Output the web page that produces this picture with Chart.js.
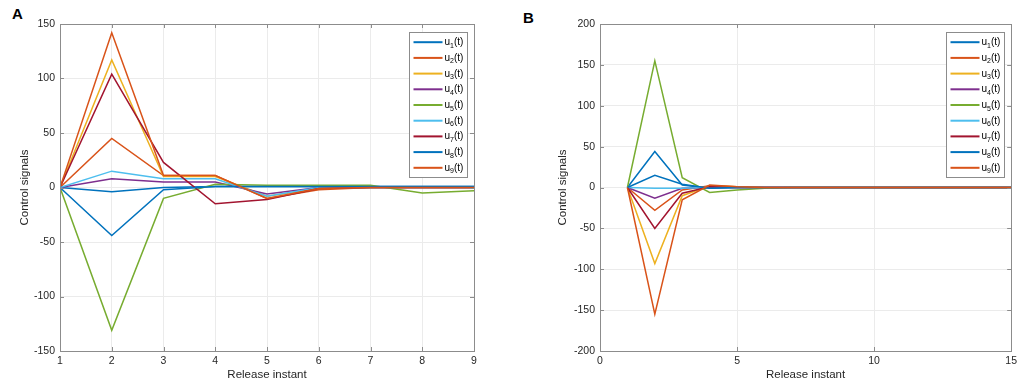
<!DOCTYPE html>
<html lang="en">
<head>
<meta charset="UTF-8">
<title>Control signals vs release instant</title>
<style>
    body {
        margin: 0;
        background: #fff;
        font-family: 'Liberation Sans', Arial, sans-serif;
    }
    .wrap {
        position: relative;
        width: 1021px;
        height: 382px;
    }
    .panel {
        position: absolute;
        top: 0;
        height: 382px;
    }
    #panelA { left: 0; width: 482px; }
    #panelB { left: 510px; width: 511px; }
    .tag {
        position: absolute;
        font-weight: bold;
        font-size: 15px;
        line-height: 15px;
        color: #000;
    }
</style>
<script src="https://cdn.jsdelivr.net/npm/chart.js"></script>
</head>
<body>
<div class="wrap">
    <div class="tag" style="left:12px; top:6px;">A</div>
    <div class="tag" style="left:523px; top:10px;">B</div>
    <div class="panel" id="panelA"><canvas id="chartA"></canvas></div>
    <div class="panel" id="panelB"><canvas id="chartB"></canvas></div>
</div>

<script>
    // release instants
    const releaseA = [1, 2, 3, 4, 5, 6, 7, 8, 9];
    const releaseB = [1, 2, 3, 4, 5, 6, 7, 8, 9, 10, 11, 12, 13, 14, 15];

    const seriesNums = [1, 2, 3, 4, 5, 6, 7, 8, 9];

    // panel A control signals
    const u1A = [0, -4, 0, 1, 1, 1, 1, 1, 1];
    const u2A = [0, 45, 11, 11, -10, -2, 0, 0, 0];
    const u3A = [0, 117, 10, 10, -8, -1, 0, 0, 0];
    const u4A = [0, 8, 5, 5, -6, 0, 0, 0, 0];
    const u5A = [0, -131, -10, 3, 2, 2, 2, -5, -3];
    const u6A = [0, 15, 8, 8, -8, 0, 0, 0, 0];
    const u7A = [0, 104, 23, -15, -11, -1, 0, 0, 0];
    const u8A = [0, -44, -2, 1, 1, 1, 1, 1, 1];
    const u9A = [0, 142, 11, 11, -10, -1, 0, 0, 0];

    // panel B control signals
    const u1B = [0, 44, 3, -1, 0, 0, 0, 0, 0, 0, 0, 0, 0, 0, 0];
    const u2B = [0, -28, -3, 2, 1, 0, 0, 0, 0, 0, 0, 0, 0, 0, 0];
    const u3B = [0, -93, -10, 2, 1, 0, 0, 0, 0, 0, 0, 0, 0, 0, 0];
    const u4B = [0, -13, -1, 0, 0, 0, 0, 0, 0, 0, 0, 0, 0, 0, 0];
    const u5B = [0, 155, 12, -6, -3, -1, 0, 0, 0, 0, 0, 0, 0, 0, 0];
    const u6B = [0, -1, -1, 0, 0, 0, 0, 0, 0, 0, 0, 0, 0, 0, 0];
    const u7B = [0, -50, -7, 1, 0, 0, 0, 0, 0, 0, 0, 0, 0, 0, 0];
    const u8B = [0, 15, 4, -1, 0, 0, 0, 0, 0, 0, 0, 0, 0, 0, 0];
    const u9B = [0, -155, -15, 3, 1, 0, 0, 0, 0, 0, 0, 0, 0, 0, 0];

    // MATLAB default color order
    const palette = ['#0072BD', '#D95319', '#EDB120', '#7E2F8E', '#77AC30',
                     '#4DBEEE', '#A2142F', '#0072BD', '#D95319'];

    const textColor = '#262626';

    function makeDatasets(xs, series) {
        return series.map((vals, i) => ({
            label: 'u' + seriesNums[i] + '(t)',
            num: seriesNums[i],
            data: vals.map((v, k) => ({ x: xs[k], y: v })),
            borderColor: palette[i],
            backgroundColor: palette[i],
            borderWidth: 1.5,
            pointRadius: 0,
            tension: 0,
            order: series.length - i
        }));
    }

    // box, inward ticks and legend drawn inside the axes
    const framePlugin = {
        id: 'frame',
        afterDatasetsDraw(chart) {
            const { ctx, chartArea: a, scales: { x, y } } = chart;
            ctx.save();
            ctx.strokeStyle = '#8c8c8c';
            ctx.lineWidth = 1;
            ctx.strokeRect(Math.round(a.left) + 0.5, Math.round(a.top) + 0.5,
                           Math.round(a.right - a.left), Math.round(a.bottom - a.top));
            const t = 4;
            ctx.beginPath();
            x.ticks.forEach(tk => {
                const px = Math.round(x.getPixelForValue(tk.value)) + 0.5;
                ctx.moveTo(px, a.bottom); ctx.lineTo(px, a.bottom - t);
                ctx.moveTo(px, a.top); ctx.lineTo(px, a.top + t);
            });
            y.ticks.forEach(tk => {
                const py = Math.round(y.getPixelForValue(tk.value)) + 0.5;
                ctx.moveTo(a.left, py); ctx.lineTo(a.left + t, py);
                ctx.moveTo(a.right, py); ctx.lineTo(a.right - t, py);
            });
            ctx.stroke();

            // legend
            const ds = chart.data.datasets;
            const w = 58, rowH = 15.7, pad = 9.7;
            const h = pad * 2 + rowH * (ds.length - 1);
            const left = Math.round(a.right - 7 - w) + 0.5;
            const top = Math.round(a.top + 8) + 0.5;
            ctx.fillStyle = '#fff';
            ctx.fillRect(left, top, w, h);
            ctx.strokeStyle = '#8c8c8c';
            ctx.strokeRect(left, top, w, h);
            ds.forEach((d, i) => {
                const cy = top + pad + i * rowH;
                ctx.strokeStyle = d.borderColor;
                ctx.lineWidth = 2;
                ctx.beginPath();
                ctx.moveTo(left + 4, cy);
                ctx.lineTo(left + 33, cy);
                ctx.stroke();
                ctx.fillStyle = '#000';
                ctx.textBaseline = 'alphabetic';
                ctx.font = '10px "Liberation Sans", Arial, sans-serif';
                let tx = left + 35;
                const base = cy + 3;
                ctx.fillText('u', tx, base);
                tx += ctx.measureText('u').width;
                ctx.font = '7px "Liberation Sans", Arial, sans-serif';
                ctx.fillText(String(d.num), tx, base + 2.5);
                tx += ctx.measureText(String(d.num)).width;
                ctx.font = '10px "Liberation Sans", Arial, sans-serif';
                ctx.fillText('(t)', tx, base);
            });
            ctx.restore();
        }
    };

    function makeChart(id, xs, series, xOpts, yOpts, yAxisWidth, yTitlePad, rightPad) {
        const tickFont = { family: "'Liberation Sans', Arial, sans-serif", size: 10.5 };
        const titleFont = { family: "'Liberation Sans', Arial, sans-serif", size: 11.5 };
        return new Chart(document.getElementById(id), {
            type: 'line',
            data: { datasets: makeDatasets(xs, series) },
            options: {
                responsive: true,
                maintainAspectRatio: false,
                animation: false,
                layout: { padding: { top: 24, right: rightPad, bottom: 0, left: 0 } },
                plugins: { legend: { display: false }, tooltip: { enabled: false } },
                scales: {
                    x: {
                        type: 'linear',
                        min: xOpts.min, max: xOpts.max,
                        afterFit: s => { s.height = 31; },
                        grid: { color: '#ebebeb', drawTicks: false },
                        border: { display: false },
                        ticks: { stepSize: xOpts.step, color: textColor, font: tickFont, padding: 4 },
                        title: { display: true, text: 'Release instant', color: textColor,
                                 font: titleFont, padding: { top: 0, bottom: 0 } }
                    },
                    y: {
                        min: yOpts.min, max: yOpts.max,
                        afterFit: s => { s.width = yAxisWidth; },
                        grid: { color: '#ebebeb', drawTicks: false },
                        border: { display: false },
                        ticks: { stepSize: yOpts.step, color: textColor, font: tickFont, padding: 5 },
                        title: { display: true, text: 'Control signals', color: textColor,
                                 font: titleFont, padding: { top: yTitlePad, bottom: 0 } }
                    }
                }
            },
            plugins: [framePlugin]
        });
    }

    makeChart('chartA', releaseA, [u1A, u2A, u3A, u4A, u5A, u6A, u7A, u8A, u9A],
              { min: 1, max: 9, step: 1 }, { min: -150, max: 150, step: 50 }, 60, 18, 8);
    makeChart('chartB', releaseB, [u1B, u2B, u3B, u4B, u5B, u6B, u7B, u8B, u9B],
              { min: 0, max: 15, step: 5 }, { min: -200, max: 200, step: 50 }, 90, 46, 7);
</script>
</body>
</html>
